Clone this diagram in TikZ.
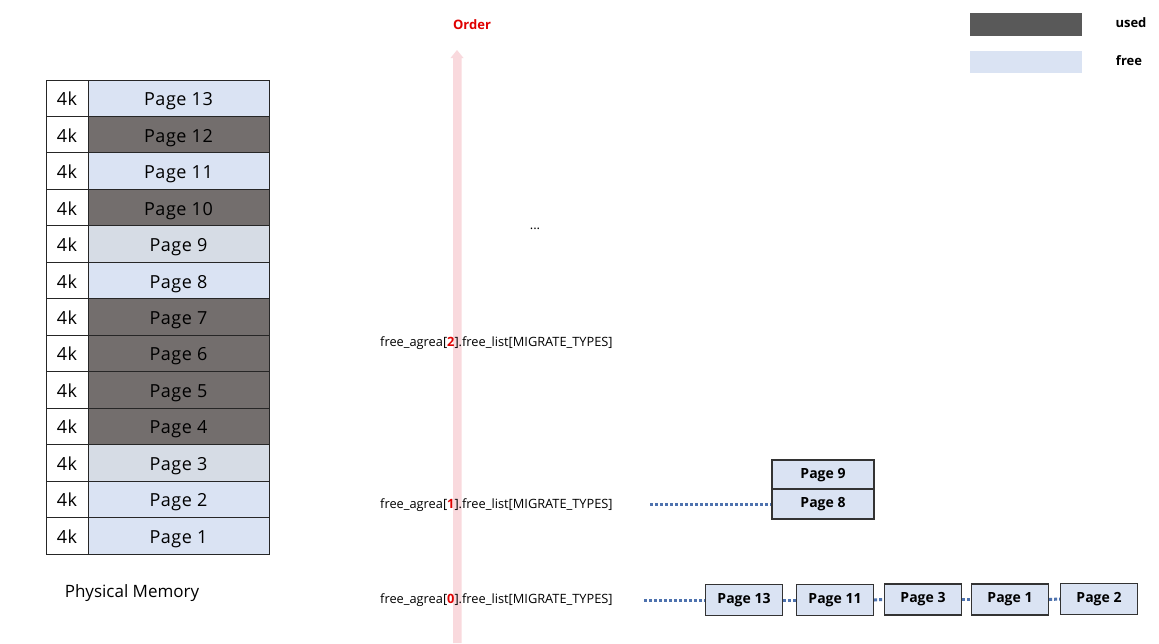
\documentclass[tikz,border=0pt]{standalone}
\usepackage{fontspec}
\setmainfont{Open Sans}
\newfontfamily\tablefont[LetterSpace=3]{Open Sans}
\begin{document}
\begin{tikzpicture}[x=1pt,y=-1pt,
  cell/.style={draw=black!85,line width=1pt,inner sep=0pt,minimum height=36.46pt,text height=16pt,text depth=1pt},
  kcell/.style={cell,fill=white,minimum width=42pt,font=\tablefont\fontsize{18}{18}\selectfont},
  pcell/.style={cell,minimum width=181pt,font=\tablefont\fontsize{18}{18}\selectfont},
  lbox/.style={draw=black!80,line width=1.2pt,fill=freec,inner sep=0pt,minimum height=30pt,font=\bfseries\fontsize{14}{14}\selectfont},
  dots/.style={draw=dotc,line width=3pt,dash pattern=on 3pt off 2pt},
  lvl/.style={anchor=west,inner sep=0pt,font=\fontsize{12.8}{12.8}\selectfont},
  lgd/.style={inner sep=0pt,font=\bfseries\fontsize{13}{13}\selectfont}
]
\definecolor{freec}{HTML}{DAE3F3}
\definecolor{grayc}{HTML}{D6DCE5}
\definecolor{usedc}{HTML}{736E6D}
\definecolor{legused}{HTML}{595959}
\definecolor{pinkc}{HTML}{F9D9DD}
\definecolor{dotc}{HTML}{4E72AE}
\definecolor{redc}{HTML}{E00000}
\useasboundingbox (0,0) rectangle (1159,643);
\fill[white] (0,0) rectangle (1159,643);
% pink order arrow
\fill[pinkc] (453,643) -- (453,58) -- (450.5,58) -- (457,50) -- (463.5,58) -- (461.5,58) -- (461.5,643) -- cycle;
\node[inner sep=0pt,text=redc,font=\bfseries\fontsize{13}{13}\selectfont] (order) at (472,25) {Order};
% memory table
\foreach \n/\c [count=\i from 0] in {13/freec,12/usedc,11/freec,10/usedc,9/grayc,8/freec,7/usedc,6/usedc,5/usedc,4/usedc,3/grayc,2/freec,1/freec}{
  \node[kcell] (k\n) at (67,{80+36.4615*(\i+0.5)}) {4k};
  \node[pcell,fill=\c] (p\n) at (178.5,{80+36.4615*(\i+0.5)}) {Page \n};
}
\node[inner sep=0pt,font=\fontsize{17}{17}\selectfont] (phys) at (132,593) {Physical Memory};
% legend
\node[fill=legused,minimum width=112pt,minimum height=23pt,inner sep=0pt] (lu) at (1026,24.5) {};
\node[fill=freec,minimum width=112pt,minimum height=22pt,inner sep=0pt] (lf) at (1026,62) {};
\node[lgd] (tu) at (1131,23) {used};
\node[lgd] (tf) at (1129,61) {free};
% levels
\node[inner sep=0pt,font=\fontsize{13}{13}\selectfont] (dots2) at (535,229) {...};
\node[lvl] (a2) at (380,343) {free\_agrea[{\color{redc}\bfseries 2}].free\_list[MIGRATE\_TYPES]};
\node[lvl] (a1) at (380,505) {free\_agrea[{\color{redc}\bfseries 1}].free\_list[MIGRATE\_TYPES]};
\node[lvl] (a0) at (380,600) {free\_agrea[{\color{redc}\bfseries 0}].free\_list[MIGRATE\_TYPES]};
% level 1 boxes
\node[lbox,minimum width=102pt] (b9) at (823,475) {Page 9};
\node[lbox,minimum width=102pt] (b8) at (823,504) {Page 8};
\coordinate (s1) at (650,504);
\draw[dots] (s1) -- (b8.west);
% level 0 boxes
\node[lbox,minimum width=77pt,minimum height=31pt] (c13) at (744,600) {Page 13};
\node[lbox,minimum width=77pt,minimum height=31pt] (c11) at (835,600) {Page 11};
\node[lbox,minimum width=77pt,minimum height=31pt] (c3) at (923,599.5) {Page 3};
\node[lbox,minimum width=77pt,minimum height=31pt] (c1) at (1010,599.5) {Page 1};
\node[lbox,minimum width=77pt,minimum height=31pt] (c2) at (1099,599) {Page 2};
\coordinate (s0) at (644,600);
\draw[dots] (s0) -- (c13.west);
\draw[dots] (c13.east) -- (c11.west);
\draw[dots] (c11.east) -- (c3.west);
\draw[dots] (c3.east) -- (c1.west);
\draw[dots] (c1.east) -- (c2.west);
\end{tikzpicture}
\end{document}
